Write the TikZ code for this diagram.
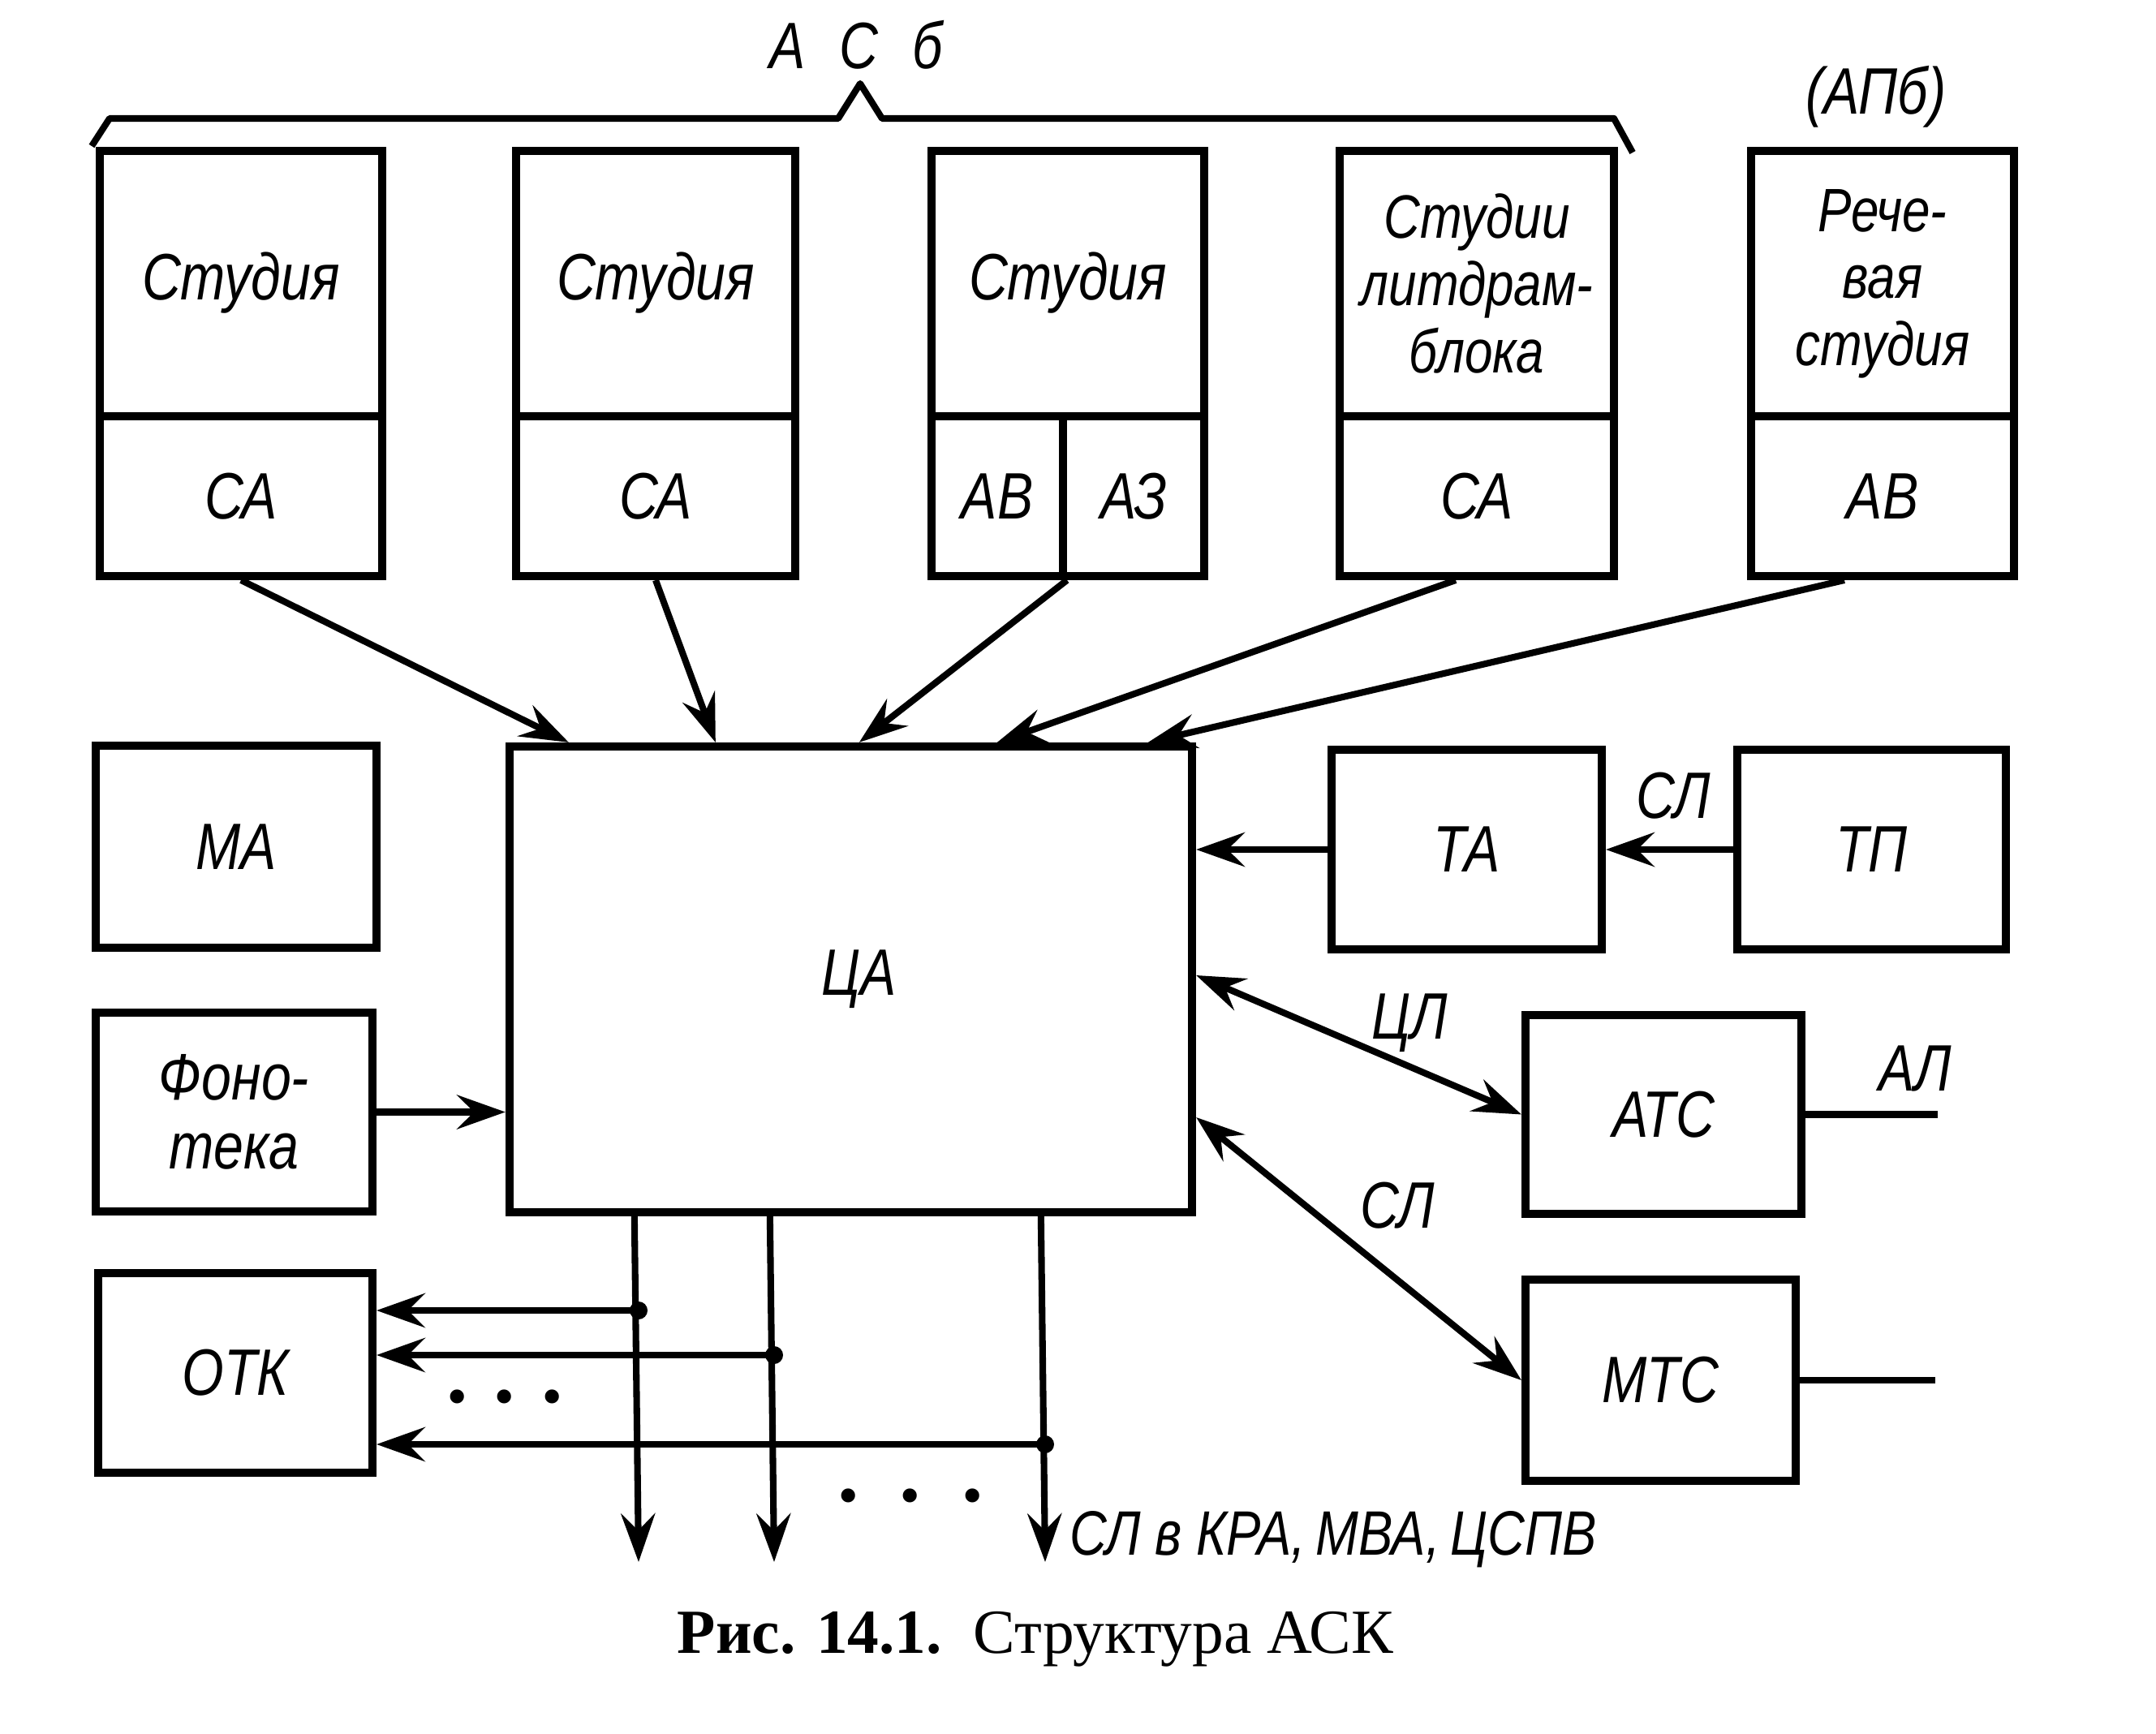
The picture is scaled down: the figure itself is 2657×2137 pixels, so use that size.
\documentclass[tikz,border=0pt]{standalone}
\usepackage{fontspec}
\setmainfont{Liberation Serif}
\newfontfamily\gost[FakeStretch=0.82]{Liberation Sans}
\usetikzlibrary{arrows.meta,calc}
\begin{document}
\begin{tikzpicture}[x=0.01cm,y=-0.01cm,
  lbl/.style={font=\gost\itshape\fontsize{23}{22}\selectfont,align=center,inner sep=0pt},
  blk/.style={draw,line width=2.8pt,inner sep=0pt,lbl},
  multi/.style={font=\gost\itshape\fontsize{21.5}{23.5}\selectfont},
  ln/.style={line width=2.3pt},
  arr/.style={ln,-{Stealth[length=17pt,width=12pt,inset=6pt]}},
  darr/.style={ln,{Stealth[length=17pt,width=12pt,inset=6pt]}-{Stealth[length=17pt,width=12pt,inset=6pt]}},
  jdot/.style={fill,circle,inner sep=0pt,minimum size=0.22cm}
]
\useasboundingbox[fill=white] (0,0) rectangle (2657,2137);

% ---- top row: studios
\node[blk,minimum width=3.48cm,minimum height=3.27cm] (s1) at (297,349.5) {\raisebox{0.19cm}{Студия}};
\node[blk,minimum width=3.48cm,minimum height=1.97cm] (c1) at (297,611.5) {СА};
\node[blk,minimum width=3.44cm,minimum height=3.27cm] (s2) at (808,349.5) {\raisebox{0.19cm}{Студия}};
\node[blk,minimum width=3.44cm,minimum height=1.97cm] (c2) at (808,611.5) {СА};
\node[blk,minimum width=3.36cm,minimum height=3.27cm] (s3) at (1316,349.5) {\raisebox{0.19cm}{Студия}};
\node[blk,minimum width=1.62cm,minimum height=1.97cm] (av) at (1229,611.5) {АВ};
\node[blk,minimum width=1.74cm,minimum height=1.97cm] (az) at (1397,611.5) {АЗ};
\node[blk,multi,minimum width=3.38cm,minimum height=3.27cm] (s4) at (1820,349.5) {Студии\\литдрам-\\блока};
\node[blk,minimum width=3.38cm,minimum height=1.97cm] (c4) at (1820,611.5) {СА};
\node[blk,multi,minimum width=3.24cm,minimum height=3.27cm] (s5) at (2320,349.5) {Рече-\\вая\\студия};
\node[blk,minimum width=3.24cm,minimum height=1.97cm] (c5) at (2320,611.5) {АВ};

% brace and group labels
\draw[ln,line join=round] (113,180) -- (135,146) -- (1033,146) -- (1060,103) -- (1087,146) -- (1989,146) -- (2012,188);
\node[lbl] (asb) at (1055,55) {А\hspace{0.42cm}С\hspace{0.42cm}б};
\node[lbl] (apb) at (2312,119) {(АПб)};

% ---- middle
\node[blk,minimum width=3.46cm,minimum height=2.49cm] (ma) at (291,1043.5) {МА};
\node[blk,minimum width=3.41cm,minimum height=2.45cm] (fon) at (288.5,1370.5) {Фоно-\\[2pt]тека};
\node[blk,minimum width=3.38cm,minimum height=2.46cm] (otk) at (290,1692) {ОТК};
\node[blk,minimum width=8.41cm,minimum height=5.74cm] (ca) at (1048.5,1207) {\raisebox{0.09cm}{\hspace{0.2cm}ЦА}};
\node[blk,minimum width=3.33cm,minimum height=2.46cm] (ta) at (1807.5,1047) {ТА};
\node[blk,minimum width=3.31cm,minimum height=2.46cm] (tp) at (2306.5,1047) {ТП};
\node[blk,minimum width=3.40cm,minimum height=2.45cm] (atc) at (2050,1373.5) {АТС};
\node[blk,minimum width=3.33cm,minimum height=2.48cm] (mtc) at (2046.5,1701) {МТС};

% ---- studio arrows into ЦА
\draw[arr] (c1.south) -- ($(ca.north west)+(78,0)$);
\draw[arr] (c2.south) -- ($(ca.north west)+(259,0)$);
\draw[arr] (av.south east) -- ($(ca.north west)+(436,0)$);
\draw[arr] ($(c4.south)+(-26,0)$) -- ($(ca.north west)+(606,0)$);
\draw[arr] ($(c5.south)+(-47,0)$) -- ($(ca.north west)+(792,0)$);

% ---- right side
\draw[arr] (ta.west) -- (ca.east |- ta.west);
\draw[arr] (tp.west) -- (ta.east);
\node[lbl] (slt) at (2062,981) {СЛ};
\draw[darr] ($(ca.east)+(0,-5)$) -- (atc.west);
\node[lbl] (zl) at (1737,1261) {ЦЛ};
\draw[darr] ($(ca.east)+(0,170)$) -- (mtc.west);
\node[lbl] (slm) at (1722,1486) {СЛ};
\coordinate (ale) at (2388,1373.5);
\draw[ln] (atc.east) -- (ale);
\node[lbl] (al) at (2360,1317) {АЛ};
\coordinate (mte) at (2385,1701);
\draw[ln] (mtc.east) -- (mte);

% ---- left side
\draw[arr] (fon.east) -- (ca.west |- fon.east);

% ---- bottom outputs
\coordinate (b1) at ($(ca.south west)+(159,0)$);
\coordinate (b2) at ($(ca.south west)+(326,0)$);
\coordinate (b3) at ($(ca.south west)+(660,0)$);
\coordinate (e1) at (787,1925);
\coordinate (e2) at (954,1925);
\coordinate (e3) at (1288,1925);
\draw[arr] (b1) -- (e1);
\draw[arr] (b2) -- (e2);
\draw[arr] (b3) -- (e3);
\coordinate (j1) at (787,1615);
\coordinate (j2) at (954,1670);
\coordinate (j3) at (1288,1780);
\draw[arr] (j1) -- (otk.east |- j1);
\draw[arr] (j2) -- (otk.east |- j2);
\draw[arr] (j3) -- (otk.east |- j3);
\node[jdot] (d1) at (j1) {};
\node[jdot] (d2) at (j2) {};
\node[jdot] (d3) at (j3) {};
\node[font=\bfseries\fontsize{30}{30}\selectfont,anchor=base,inner sep=0pt] (dots1) at (622,1728) {.\hspace{0.32cm}.\hspace{0.32cm}.};
\node[font=\bfseries\fontsize{30}{30}\selectfont,anchor=base,inner sep=0pt] (dots2) at (1122,1850) {.\hspace{0.5cm}.\hspace{0.5cm}.};
\node[lbl,anchor=west,font=\gost\itshape\fontsize{22}{22}\selectfont] (out) at (1318,1897) {СЛ в КРА,\,МВА,\,ЦСПВ};

% ---- caption
\node[font=\fontsize{22}{22}\selectfont,inner sep=0pt] (cap) at (1276,2020) {\textbf{Рис. 14.1.}\ \ Структура АСК};
\end{tikzpicture}
\end{document}
